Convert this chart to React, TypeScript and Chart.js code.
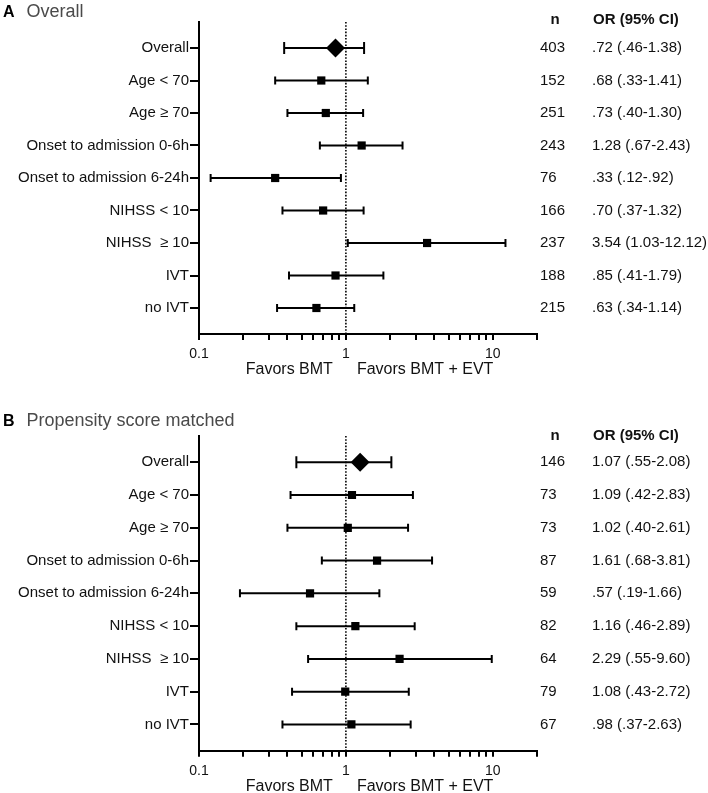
import React, { useEffect, useRef } from "react";
import { Chart, registerables } from "chart.js";

Chart.register(...registerables);

// ---------- data ----------
const SUBGROUPS = [
  "Overall",
  "Age < 70",
  "Age \u2265 70",
  "Onset to admission 0-6h",
  "Onset to admission 6-24h",
  "NIHSS < 10",
  "NIHSS  \u2265 10",
  "IVT",
  "no IVT",
];

const A_OR = [0.85, 0.68, 0.73, 1.28, 0.33, 0.7, 3.57, 0.85, 0.63];
const A_LO = [0.38, 0.33, 0.4, 0.665, 0.12, 0.37, 1.03, 0.41, 0.34];
const A_HI = [1.33, 1.41, 1.31, 2.43, 0.925, 1.32, 12.2, 1.8, 1.14];
const A_N = ["403", "152", "251", "243", "76", "166", "237", "188", "215"];
const A_TEXT = [
  ".72 (.46-1.38)",
  ".68 (.33-1.41)",
  ".73 (.40-1.30)",
  "1.28 (.67-2.43)",
  ".33 (.12-.92)",
  ".70 (.37-1.32)",
  "3.54 (1.03-12.12)",
  ".85 (.41-1.79)",
  ".63 (.34-1.14)",
];

// Panel B – Propensity score matched
const B_OR = [1.25, 1.1, 1.03, 1.63, 0.57, 1.16, 2.32, 0.99, 1.09];
const B_LO = [0.46, 0.42, 0.4, 0.686, 0.19, 0.46, 0.553, 0.43, 0.37];
const B_HI = [2.04, 2.86, 2.65, 3.86, 1.69, 2.94, 9.84, 2.68, 2.76];
const B_N = ["146", "73", "73", "87", "59", "82", "64", "79", "67"];
const B_TEXT = [
  "1.07 (.55-2.08)",
  "1.09 (.42-2.83)",
  "1.02 (.40-2.61)",
  "1.61 (.68-3.81)",
  ".57 (.19-1.66)",
  "1.16 (.46-2.89)",
  "2.29 (.55-9.60)",
  "1.08 (.43-2.72)",
  ".98 (.37-2.63)",
];

const X_MIN = 0.1;
const X_MAX = 20;
const X_TICKS = [0.1, 0.2, 0.3, 0.4, 0.5, 0.6, 0.7, 0.8, 0.9, 1, 2, 3, 4, 5, 6, 7, 8, 9, 10, 20];
const X_LABELED = [0.1, 1, 10];
const X_LABELS = ["0.1", "1", "10"];
const NULL_OR = 1;
const Y_MIN = -0.8;
const Y_MAX = 8.8;

const FONT = "'Liberation Sans', Arial, Helvetica, sans-serif";
Chart.defaults.font.family = FONT;

type Panel = {
  letter: string;
  title: string;
  or: number[];
  lo: number[];
  hi: number[];
  n: string[];
  text: string[];
  height: number;
  padTop: number;
  padBottom: number;
  titleBaseline: number;
  headerOffset: number;
};

function makeChart(canvas: HTMLCanvasElement, p: Panel) {
  const markers = {
    label: "OR",
    data: p.or.map((v, i) => ({ x: v, y: i })),
    pointStyle: p.or.map((_, i) => (i === 0 ? "rectRot" : "rect")),
    pointRadius: p.or.map((_, i) => (i === 0 ? 9.5 : 5.8)),
    backgroundColor: "#000",
    borderColor: "#000",
    borderWidth: 0,
    order: 0,
  };
  const bars = p.lo.map((lo, i) => ({
    label: "CI " + i,
    data: [
      { x: lo, y: i },
      { x: p.hi[i], y: i },
    ],
    showLine: true,
    borderColor: "#000",
    borderWidth: 2,
    pointStyle: "line",
    rotation: 90,
    pointRadius: i === 0 ? 6 : 4,
    pointBorderWidth: 2,
    pointBorderColor: "#000",
    order: 1,
  }));
  const ref = {
    label: "ref",
    data: [
      { x: NULL_OR, y: Y_MIN },
      { x: NULL_OR, y: Y_MAX },
    ],
    showLine: true,
    borderColor: "#000",
    borderWidth: 1.6,
    borderDash: [1.6, 1.6],
    pointRadius: 0,
    order: 2,
  };

  const textPlugin = {
    id: "forestText",
    afterDraw(chart: any) {
      const ctx = chart.ctx;
      const y = chart.scales.y;
      const x = chart.scales.x;
      const area = chart.chartArea;
      ctx.save();
      // title
      ctx.textBaseline = "alphabetic";
      ctx.textAlign = "left";
      ctx.fillStyle = "#000";
      ctx.font = `bold 16px ${FONT}`;
      ctx.fillText(p.letter, 3, p.titleBaseline);
      ctx.fillStyle = "#4a4a4a";
      ctx.font = `18px ${FONT}`;
      ctx.fillText(p.title, 26.5, p.titleBaseline);
      // header
      const y0 = y.getPixelForValue(0);
      ctx.fillStyle = "#111";
      ctx.font = `bold 15px ${FONT}`;
      ctx.textBaseline = "middle";
      ctx.textAlign = "center";
      ctx.fillText("n", 555, y0 - p.headerOffset);
      ctx.textAlign = "left";
      ctx.fillText("OR (95% CI)", 593, y0 - p.headerOffset);
      // rows
      ctx.font = `15px ${FONT}`;
      p.n.forEach((nv, i) => {
        const py = y.getPixelForValue(i);
        ctx.fillText(nv, 540, py);
        ctx.fillText(p.text[i], 592, py);
      });
      // favors
      const x1 = x.getPixelForValue(NULL_OR);
      ctx.font = `16px ${FONT}`;
      ctx.textAlign = "right";
      ctx.fillText("Favors BMT", x1 - 13, area.bottom + 35.5);
      ctx.textAlign = "left";
      ctx.fillText("Favors BMT + EVT", x1 + 11, area.bottom + 35.5);
      ctx.restore();
    },
  };

  return new Chart(canvas, {
    type: "scatter",
    data: { datasets: [markers, ...bars, ref] as any },
    options: {
      responsive: false,
      animation: false,
      devicePixelRatio: 1,
      layout: { padding: { left: 0, right: 171, top: p.padTop, bottom: p.padBottom } },
      plugins: { legend: { display: false }, tooltip: { enabled: false }, title: { display: false } },
      scales: {
        x: {
          type: "logarithmic",
          position: "bottom",
          min: X_MIN,
          max: X_MAX,
          afterBuildTicks: (s: any) => {
            s.ticks = X_TICKS.map((v) => ({ value: v }));
          },
          afterFit: (s: any) => {
            s.height = 40;
          },
          ticks: {
            autoSkip: false,
            maxRotation: 0,
            minRotation: 0,
            padding: 6,
            color: "#111",
            font: { size: 14, family: FONT },
            callback: (v: any) => {
              const k = X_LABELED.indexOf(Number(v));
              return k >= 0 ? X_LABELS[k] : "";
            },
          },
          grid: { drawOnChartArea: false, drawTicks: true, tickLength: 6, color: "#000", lineWidth: 2 },
          border: { display: true, color: "#000", width: 2 },
        },
        y: {
          type: "linear",
          reverse: true,
          min: Y_MIN,
          max: Y_MAX,
          afterBuildTicks: (s: any) => {
            s.ticks = SUBGROUPS.map((_, i) => ({ value: i }));
          },
          afterFit: (s: any) => {
            s.width = 199;
          },
          ticks: {
            autoSkip: false,
            padding: 1,
            color: "#111",
            font: { size: 15, family: FONT },
            callback: (v: any) => SUBGROUPS[Number(v)] ?? "",
          },
          grid: { drawOnChartArea: false, drawTicks: true, tickLength: 9, color: "#000", lineWidth: 2 },
          border: { display: true, color: "#000", width: 2 },
        },
      },
    } as any,
    plugins: [textPlugin],
  });
}

const PANEL_A: Panel = {
  letter: "A",
  title: "Overall",
  or: A_OR,
  lo: A_LO,
  hi: A_HI,
  n: A_N,
  text: A_TEXT,
  height: 396,
  padTop: 22,
  padBottom: 22,
  titleBaseline: 17,
  headerOffset: 28,
};

const PANEL_B: Panel = {
  letter: "B",
  title: "Propensity score matched",
  or: B_OR,
  lo: B_LO,
  hi: B_HI,
  n: B_N,
  text: B_TEXT,
  height: 397,
  padTop: 40,
  padBottom: 2.3,
  titleBaseline: 29.7,
  headerOffset: 26,
};

export default function App() {
  const refA = useRef<HTMLCanvasElement>(null);
  const refB = useRef<HTMLCanvasElement>(null);

  useEffect(() => {
    const a = makeChart(refA.current as HTMLCanvasElement, PANEL_A);
    const b = makeChart(refB.current as HTMLCanvasElement, PANEL_B);
    return () => {
      a.destroy();
      b.destroy();
    };
  }, []);

  return (
    <div style={{ position: "absolute", left: 0, top: 0, width: 708, height: 793, background: "#fff" }}>
      <canvas
        ref={refA}
        width={708}
        height={PANEL_A.height}
        style={{ position: "absolute", left: 0, top: 0, width: 708, height: PANEL_A.height }}
      />
      <canvas
        ref={refB}
        width={708}
        height={PANEL_B.height}
        style={{ position: "absolute", left: 0, top: PANEL_A.height, width: 708, height: PANEL_B.height }}
      />
    </div>
  );
}
